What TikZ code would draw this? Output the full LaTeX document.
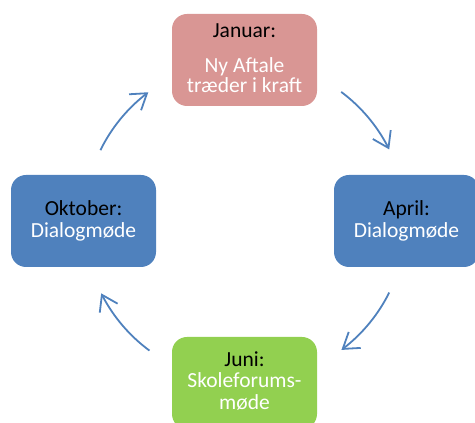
\documentclass[tikz,border=0pt]{standalone}
\usepackage{fontspec}
\setmainfont{Carlito}
\usetikzlibrary{arrows.meta,bending,calc}
\definecolor{pinkbox}{HTML}{D99694}
\definecolor{bluebox}{HTML}{4F81BD}
\definecolor{greenbox}{HTML}{92D050}
\definecolor{arrowblue}{HTML}{4F81BD}
\begin{document}
\begin{tikzpicture}[x=1pt,y=1pt,
  box/.style={rounded corners=15pt, minimum width=145pt, minimum height=92pt, inner sep=0pt, draw=none},
  lbl/.style={anchor=base, font=\fontsize{21.5}{22}\selectfont, inner sep=0pt},
  monthlbl/.style={lbl, text=black},
  desclbl/.style={lbl, text=white},
  cyc/.style={draw=arrowblue, line width=1.8pt, -{Straight Barb[length=15pt,width=20pt]}}]
\useasboundingbox (0,0) rectangle (475,423);
\clip (0,0) rectangle (475,423);
% boxes
\node[box, fill=pinkbox]  (jan) at (244.5,363) {};
\node[box, fill=bluebox]  (okt) at (83.5,202) {};
\node[box, fill=bluebox]  (apr) at (406.5,202) {};
\node[box, fill=greenbox] (jun) at (244.5,40) {};
% texts
\node[monthlbl] (janA) at (244.5,385) {Januar:};
\node[desclbl]  (janB) at (244.5,350.3) {Ny Aftale};
\node[desclbl]  (janC) at (244.5,330) {træder i kraft};
\node[monthlbl] (oktA) at (83.5,207) {Oktober:};
\node[desclbl]  (oktB) at (83.5,185) {Dialogmøde};
\node[monthlbl] (aprA) at (406.5,207) {April:};
\node[desclbl]  (aprB) at (406.5,185) {Dialogmøde};
\node[monthlbl] (junA) at (244.5,56) {Juni:};
\node[desclbl]  (junB) at (244.5,35) {Skoleforums-};
\node[desclbl]  (junC) at (244.5,13) {møde};
% cycle arrows
\coordinate (c) at (245,202);
\coordinate (s1) at ($(c)+(53.3:161pt)$);
\coordinate (s2) at ($(c)+(-26.4:161pt)$);
\coordinate (s3) at ($(c)+(-126.4:161pt)$);
\coordinate (s4) at ($(c)+(153.9:161pt)$);
\draw[cyc] (s1) arc[start angle=53.3, end angle=26.4, radius=161pt];
\draw[cyc] (s2) arc[start angle=-26.4, end angle=-53.2, radius=161pt];
\draw[cyc] (s3) arc[start angle=-126.4, end angle=-153.3, radius=161pt];
\draw[cyc] (s4) arc[start angle=153.9, end angle=126.9, radius=161pt];
\end{tikzpicture}
\end{document}
